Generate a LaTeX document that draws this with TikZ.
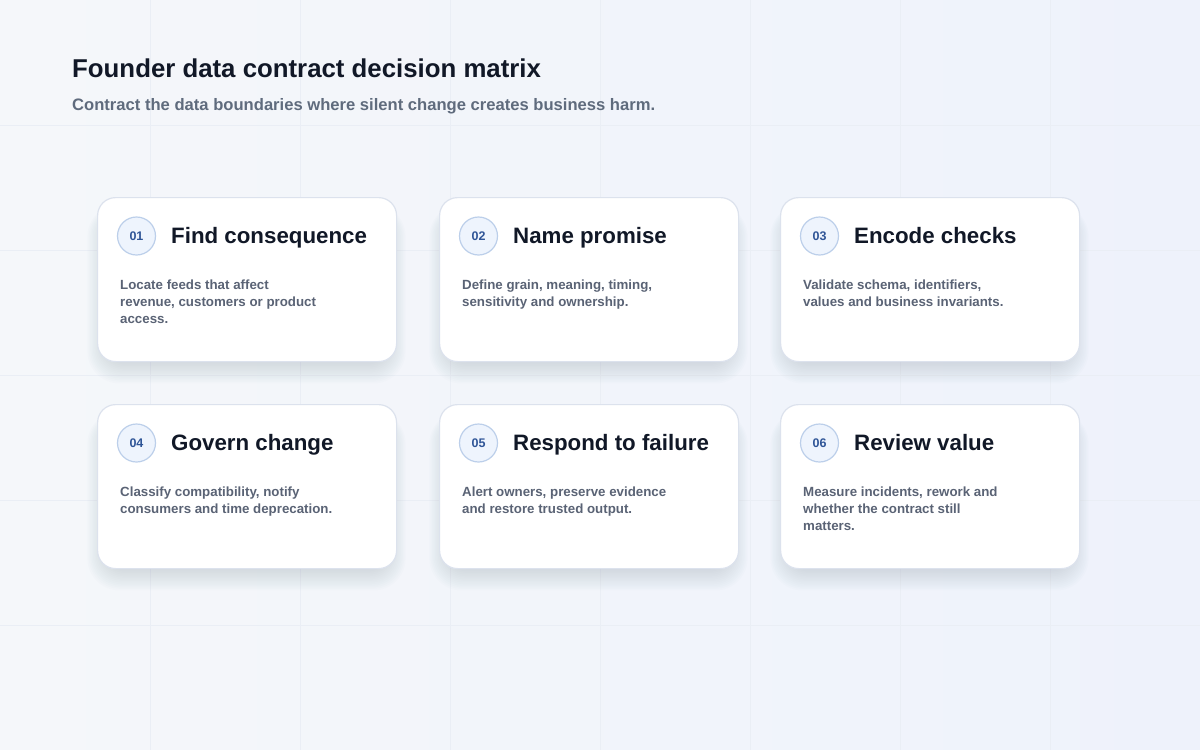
\documentclass[tikz,border=0pt]{standalone}
\usepackage{fontspec}
\setmainfont{Liberation Sans}
\definecolor{bgA}{HTML}{F5F7FA}
\definecolor{bgB}{HTML}{EEF2FB}
\definecolor{gridc}{HTML}{EAEEF5}
\definecolor{titlec}{HTML}{111827}
\definecolor{subc}{HTML}{5F6B7D}
\definecolor{bodyc}{HTML}{5A6375}
\definecolor{numc}{HTML}{2F5597}
\definecolor{circfill}{HTML}{EEF4FD}
\definecolor{circline}{HTML}{BCCFEA}
\definecolor{cardline}{HTML}{DCE2ED}
\definecolor{shadowc}{HTML}{8290B0}
\tikzset{
  cardbox/.style={draw=cardline, line width=1.2pt, fill=white, rounded corners=18pt,
    minimum width=299pt, minimum height=164pt, anchor=north west, inner sep=0pt},
  numcirc/.style={circle, draw=circline, line width=1.2pt, fill=circfill, minimum size=38pt,
    inner sep=0pt, text=numc, font=\fontsize{12.5}{14}\selectfont\bfseries},
  cardtitle/.style={anchor=base west, inner sep=0pt, text=titlec, font=\fontsize{22.3}{26}\selectfont\bfseries},
  cardbody/.style={anchor=north west, inner sep=0pt, text=bodyc, align=left,
    font=\fontsize{13.3}{17}\selectfont\bfseries},
  gridline/.style={draw=gridc, line width=1pt},
}
\newcommand{\mycard}[6]{%
  % #1 name, #2 x, #3 y, #4 number, #5 title, #6 body
  \foreach \i in {1,...,14}{
    \fill[shadowc, opacity=0.02, rounded corners=18pt+\i pt]
      ({#2+10-\i*1.4},{#3+16-\i*0.6}) rectangle ({#2+289+\i*1.4},{#3+164+\i*1.6});
  }
  \node[cardbox] (#1) at (#2,#3) {};
  \node[numcirc] (#1n) at ({#2+39.5},{#3+39}) {#4};
  \node[cardtitle] (#1t) at ({#2+74},{#3+46}) {#5};
  \node[cardbody] (#1b) at ({#2+23},{#3+83}) {#6};
}
\begin{document}
\begin{tikzpicture}[x=1pt,y=-1pt]
\useasboundingbox (0,0) rectangle (1200,750);
\shade[left color=bgA, right color=bgB] (0,0) rectangle (1200,750);
\foreach \x in {150,300,...,1050} \draw[gridline] (\x,0) -- (\x,750);
\foreach \y in {125,250,375,500,625} \draw[gridline] (0,\y) -- (1200,\y);
\node[anchor=base west, inner sep=0pt, text=titlec, font=\fontsize{25.8}{30}\selectfont\bfseries] (title) at (72,77) {Founder data contract decision matrix};
\node[anchor=base west, inner sep=0pt, text=subc, font=\fontsize{16.6}{19}\selectfont\bfseries] (subtitle) at (72,110) {Contract the data boundaries where silent change creates business harm.};
\mycard{c1}{97}{197}{01}{Find consequence}{Locate feeds that affect\\revenue, customers or product\\access.}
\mycard{c2}{439}{197}{02}{Name promise}{Define grain, meaning, timing,\\sensitivity and ownership.}
\mycard{c3}{780}{197}{03}{Encode checks}{Validate schema, identifiers,\\values and business invariants.}
\mycard{c4}{97}{404}{04}{Govern change}{Classify compatibility, notify\\consumers and time deprecation.}
\mycard{c5}{439}{404}{05}{Respond to failure}{Alert owners, preserve evidence\\and restore trusted output.}
\mycard{c6}{780}{404}{06}{Review value}{Measure incidents, rework and\\whether the contract still\\matters.}
\end{tikzpicture}
\end{document}
